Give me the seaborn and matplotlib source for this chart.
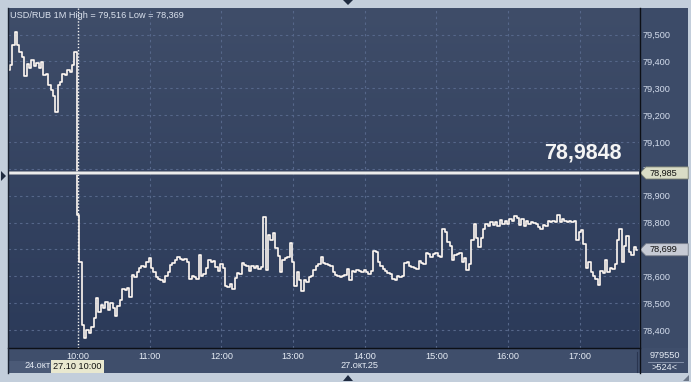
import numpy as np
import pandas as pd
import matplotlib
matplotlib.use("Agg")
import matplotlib.pyplot as plt
import seaborn as sns
from matplotlib import transforms
from matplotlib.patches import Polygon, Rectangle
from matplotlib.lines import Line2D
from matplotlib.colors import LinearSegmentedColormap

# ---------------- data ----------------
title = "USD/RUB 1M High = 79,516 Low = 78,369"
pre_minutes = list(range(-58, 0, 2))          # 24 Oct, last hour (minutes before 10:00 of 27 Oct)
pre_prices = [79.368, 79.386, 79.461, 79.509, 79.461, 79.435, 79.416, 79.345, 79.390, 79.375,
              79.405, 79.383, 79.394, 79.375, 79.398, 79.349, 79.353, 79.312, 79.293, 79.271,
              79.211, 79.312, 79.323, 79.353, 79.349, 79.368, 79.360, 79.386, 79.435]
main_minutes = list(range(0, 470, 2))         # minutes after 10:00, 27 Oct
main_prices = [
    78.828, 78.653, 78.418, 78.370, 78.400, 78.389, 78.411, 78.445, 78.519, 78.467,
    78.493, 78.482, 78.504, 78.474, 78.500, 78.482, 78.452, 78.489, 78.512, 78.552,
    78.549, 78.556, 78.523, 78.605, 78.597, 78.616, 78.631, 78.638, 78.634, 78.653,
    78.668, 78.631, 78.616, 78.597, 78.590, 78.586, 78.579, 78.601, 78.616, 78.642,
    78.649, 78.660, 78.672, 78.664, 78.660, 78.664, 78.653, 78.590, 78.601, 78.597,
    78.590, 78.679, 78.601, 78.608, 78.631, 78.660, 78.653, 78.657, 78.634, 78.619,
    78.646, 78.631, 78.564, 78.560, 78.571, 78.552, 78.593, 78.612, 78.608, 78.649,
    78.642, 78.638, 78.619, 78.638, 78.631, 78.638, 78.627, 78.634, 78.821, 78.623,
    78.754, 78.735, 78.761, 78.705, 78.675, 78.616, 78.660, 78.668, 78.672, 78.724,
    78.653, 78.564, 78.616, 78.586, 78.545, 78.586, 78.579, 78.597, 78.601, 78.623,
    78.638, 78.646, 78.672, 78.649, 78.646, 78.642, 78.638, 78.616, 78.605, 78.601,
    78.597, 78.601, 78.605, 78.627, 78.586, 78.619, 78.616, 78.623, 78.619, 78.616,
    78.623, 78.616, 78.608, 78.619, 78.694, 78.690, 78.653, 78.638, 78.627, 78.619,
    78.612, 78.608, 78.590, 78.586, 78.601, 78.597, 78.601, 78.649, 78.653, 78.638,
    78.634, 78.631, 78.627, 78.657, 78.649, 78.646, 78.687, 78.683, 78.672, 78.683,
    78.687, 78.675, 78.672, 78.776, 78.765, 78.728, 78.713, 78.660, 78.679, 78.683,
    78.687, 78.653, 78.668, 78.623, 78.646, 78.735, 78.795, 78.743, 78.709, 78.743,
    78.776, 78.795, 78.787, 78.802, 78.791, 78.802, 78.787, 78.810, 78.795, 78.806,
    78.795, 78.813, 78.806, 78.824, 78.817, 78.791, 78.813, 78.787, 78.806, 78.795,
    78.802, 78.798, 78.795, 78.783, 78.776, 78.791, 78.787, 78.806, 78.802, 78.806,
    78.802, 78.828, 78.802, 78.813, 78.806, 78.802, 78.806, 78.802, 78.806, 78.735,
    78.765, 78.772, 78.720, 78.631, 78.653, 78.616, 78.601, 78.590, 78.567, 78.619,
    78.612, 78.660, 78.616, 78.631, 78.627, 78.646, 78.735, 78.776, 78.653, 78.713,
    78.750, 78.690, 78.679, 78.709, 78.699]

hour_ticks = [0, 60, 120, 180, 240, 300, 360, 420]
hour_labels = ["10:00", "11:00", "12:00", "13:00", "14:00", "15:00", "16:00", "17:00"]
price_ticks = [78.4, 78.5, 78.6, 78.7, 78.8, 78.9, 79.0, 79.1, 79.2, 79.3, 79.4, 79.5]
# 78,700 is hidden behind the last-price tag in the reference
price_labels = ["78,400", "78,500", "78,600", "", "78,800", "78,900",
                "79,000", "79,100", "79,200", "79,300", "79,400", "79,500"]
ref_price = 78.9848
ref_label = "78,9848"
ref_tag = "78,985"
last_price = 78.699
last_tag = "78,699"
date_prev = "24.окт"
date_cursor = "27.10 10:00"
date_main = "27.окт.25"
volume_text = "979550"
bars_text = ">524<"

# ---------------- figure ----------------
plt.rcParams['font.family'] = ['Liberation Sans', 'DejaVu Sans']
W, H = 691, 382
fig = plt.figure(figsize=(W / 100, H / 100), dpi=100)
fig.patch.set_facecolor('#c3cedb')

def fx(px):
    return px / W

def fy(py):
    return 1 - py / H

def frect(x0, y0, x1, y1, color, z=-5):
    fig.add_artist(Rectangle((fx(x0), fy(y1)), fx(x1) - fx(x0), fy(y0) - fy(y1),
                             transform=fig.transFigure, facecolor=color,
                             edgecolor='none', zorder=z))

def fline(xs, ys, color, lw=1.0, z=5):
    fig.add_artist(Line2D([fx(v) for v in xs], [fy(v) for v in ys],
                          transform=fig.transFigure, color=color, lw=lw, zorder=z))

def ftri(pts, color):
    fig.add_artist(Polygon([(fx(a), fy(b)) for a, b in pts], closed=True,
                           transform=fig.transFigure, facecolor=color,
                           edgecolor='none', zorder=5))

# panels
frect(8, 348, 688, 373, '#3f4e6b')
frect(639, 8, 688, 348, '#3c4b68')
frect(8, 361, 52, 373, '#4b5a77', z=-4)

ax = fig.add_axes([fx(8), fy(348), fx(639) - fx(8), fy(8) - fy(348)])
xmin, xmax = -58.6, 469.5
ymin, ymax = 78.333, 79.599
ax.set_xlim(xmin, xmax)
ax.set_ylim(ymin, ymax)

cmap = LinearSegmentedColormap.from_list('bg', ['#2b3a59', '#3f4d69'])
ax.imshow(np.linspace(0, 1, 256).reshape(-1, 1), extent=[xmin, xmax, ymin, ymax],
          aspect='auto', cmap=cmap, origin='lower', zorder=0)

grid_kw = dict(color='#56678a', lw=0.8, ls=(0, (2.2, 3)), zorder=1)
for v in price_ticks:
    ax.axhline(v, **grid_kw)
for h in hour_ticks[1:]:
    ax.axvline(h, **grid_kw)
ax.axvline(-0.4, color='#f2f2f2', lw=1.0, ls=(0, (1, 1.3)), zorder=2)

df = pd.DataFrame({'minute': pre_minutes + main_minutes,
                   'price': pre_prices + main_prices})
sns.lineplot(data=df, x='minute', y='price', ax=ax, color='#fff8f2', lw=1.2,
             drawstyle='steps-mid', estimator=None, zorder=5)

ax.axhline(ref_price, color='#9aa0aa', lw=2.6, zorder=6)
ax.axhline(ref_price, color='#ececec', lw=1.6, zorder=6)

blend = transforms.blended_transform_factory(ax.transAxes, ax.transData)
ax.text((622 - 8) / 631, 79.040, ref_label, transform=blend, ha='right', va='baseline',
        fontsize=15.5, fontweight='bold', color='#f4f4f4', zorder=7)

ax.text((10 - 8) / 631, 1 - 7 / 340, title, transform=ax.transAxes, ha='left',
        va='center', fontsize=6.6, color='#dbe2ee', zorder=7)

ax.set_xlabel('')
ax.set_ylabel('')
ax.yaxis.tick_right()
ax.set_yticks(price_ticks)
ax.set_yticklabels(price_labels)
ax.set_xticks(hour_ticks)
ax.set_xticklabels(hour_labels)
ax.tick_params(axis='y', length=0, pad=2.5, labelsize=6.6, labelcolor='#d3dcec')
ax.tick_params(axis='x', length=0, pad=3.2, labelsize=6.6, labelcolor='#e6ecf5')
for s in ax.spines.values():
    s.set_visible(False)
ax.grid(False)

# price tags
def tag(value, text, face, edge):
    hh = 0.0225
    pts = [(1.0016, value), (1.011, value + hh), (1.078, value + hh),
           (1.078, value - hh), (1.011, value - hh)]
    ax.add_patch(Polygon(pts, closed=True, transform=blend, facecolor=face,
                         edgecolor=edge, lw=0.6, clip_on=False, zorder=20))
    ax.text(1.016, value, text, transform=blend, ha='left', va='center',
            fontsize=6.6, color='#111111', clip_on=False, zorder=21)

tag(ref_price, ref_tag, '#d9dcc6', '#7d8274')
tag(last_price, last_tag, '#c6cad4', '#7a808c')

# frame lines
fline([639.5, 639.5], [8, 373], '#0c0f16', lw=1.0)
fline([8, 639.5], [348, 348], '#0c0f16', lw=1.0)
fline([7.5, 7.5], [8, 373], '#1a2232', lw=1.0)
fline([636.5, 636.5], [352, 372], '#2a3550', lw=0.8)
fline([648, 683], [361.5, 361.5], '#8d9ab2', lw=0.6)

# bottom texts
frect(51, 360, 104, 373, '#e9e8cf', z=-3)
fig.text(fx(77.5), fy(366.5), date_cursor, ha='center', va='center', fontsize=6.6, color='#111111')
fig.text(fx(24), fy(366), date_prev, ha='left', va='center', fontsize=6.6, color='#e6ecf5')
fig.text(fx(359), fy(366), date_main, ha='center', va='center', fontsize=6.6, color='#e6ecf5')
fig.text(fx(665), fy(355), volume_text, ha='center', va='center', fontsize=6.6, color='#e6ecf5')
fig.text(fx(665), fy(368), bars_text, ha='center', va='center', fontsize=6.6, color='#e6ecf5')

# small navigation triangles
ftri([(1, 171), (1, 181), (6, 176)], '#1f2b40')
ftri([(343, 0), (353, 0), (348, 5)], '#1f2b40')
ftri([(343, 381), (353, 381), (348, 375)], '#1f2b40')
ftri([(689, 375), (689, 381), (683, 381)], '#6b7688')

fig.savefig('out.png', dpi=100, facecolor=fig.get_facecolor())
